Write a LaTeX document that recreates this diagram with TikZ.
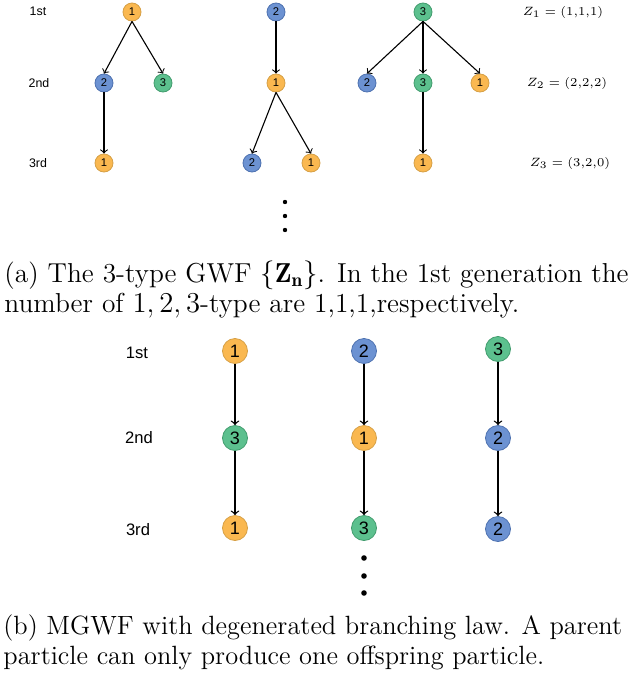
\documentclass[tikz,border=0pt]{standalone}
\usepackage{fontspec}
\newfontfamily\arialfont{Liberation Sans}
\definecolor{orangefill}{RGB}{250,184,80}
\definecolor{orangeline}{RGB}{214,160,70}
\definecolor{bluefill}{RGB}{108,146,210}
\definecolor{blueline}{RGB}{78,114,176}
\definecolor{greenfill}{RGB}{92,192,142}
\definecolor{greenline}{RGB}{66,156,110}
\tikzset{
  one/.style={circle,draw=orangeline,fill=orangefill,inner sep=0pt},
  two/.style={circle,draw=blueline,fill=bluefill,inner sep=0pt},
  three/.style={circle,draw=greenline,fill=greenfill,inner sep=0pt},
  caption/.style={anchor=north west,align=left,inner sep=0pt,
    font=\fontsize{13.7}{15}\selectfont}
}
\begin{document}
\begin{tikzpicture}[x=0.5pt,y=-0.5pt]
    \useasboundingbox (0,0) rectangle (640,675);
    % (a) the 3-type GWF
    \begin{scope}[every node/.style={minimum size=9pt,
        font=\arialfont\fontsize{5.6}{6}\selectfont}]
      \node (p) [one] at (132,12) {1};
      \node (pa)[two] at (104,83) {2};
      \node (pb)[three] at (163,83) {3};
      \node (pc)[one] at (104,163) {1};
      \node (q) [two] at (276,12) {2};
      \node (qa)[one] at (276,83) {1};
      \node (qb)[two] at (252,163) {2};
      \node (qc)[one] at (311,163) {1};
      \node (r) [three] at (423,12) {3};
      \node (ra)[two] at (367,83) {2};
      \node (rb)[three] at (423,83) {3};
      \node (rc)[one] at (480,83) {1};
      \node (rd)[one] at (423,163) {1};
    \end{scope}
    \begin{scope}[every node/.style={font=\arialfont\fontsize{6.2}{7}\selectfont}]
      \node (g1) at (38,11) {1st};
      \node (g2) at (39,83) {2nd};
      \node (g3) at (38,163) {3rd};
    \end{scope}
    \begin{scope}[every node/.style={font=\fontsize{6}{7}\selectfont}]
      \node (z1) at (563,12) {$Z_1=(1{,}1{,}1)$};
      \node (z2) at (567,83) {$Z_2=(2{,}2{,}2)$};
      \node (z3) at (570,163) {$Z_3=(3{,}2{,}0)$};
    \end{scope}
    \begin{scope}[every edge/.style={draw=black,line width=0.55pt,->}]
      \path (p.south) edge (pa.north)
            (p.south) edge (pb.north)
            (pa) edge (pc)
            (q) edge (qa)
            (qa.south) edge (qb.north)
            (qa.south) edge (qc.north)
            (r.south) edge (ra.north)
            (r.south) edge (rb.north)
            (r.south) edge (rc.north)
            (rb) edge (rd);
    \end{scope}
    \foreach \y in {202,216,230}
      \fill (285,\y) circle (1.1pt);
    \node (capa)[caption] at (4,260)
      {(a) The 3-type GWF $\{\mathbf{Z_n}\}$. In the 1st generation the\\
       number of $1,2,3$-type are 1,1,1,respectively.};
    % (b) degenerated branching law
    \begin{scope}[every node/.style={minimum width=11.5pt,minimum height=12.5pt,
        font=\arialfont\fontsize{9}{10}\selectfont}]
      \node (u) [one] at (235,351) {1};
      \node (ua)[three] at (235,438) {3};
      \node (ub)[one] at (235,528) {1};
      \node (v) [two] at (364,351) {2};
      \node (va)[one] at (364,438) {1};
      \node (vb)[three] at (364,528) {3};
      \node (w) [three] at (498,349) {3};
      \node (wa)[two] at (498,438) {2};
      \node (wb)[two] at (498,529) {2};
    \end{scope}
    \begin{scope}[every node/.style={font=\arialfont\fontsize{8.3}{9}\selectfont}]
      \node (h1) at (137,353) {1st};
      \node (h2) at (139,438) {2nd};
      \node (h3) at (138,530) {3rd};
    \end{scope}
    \begin{scope}[every edge/.style={draw=black,line width=0.65pt,->}]
      \path (u) edge (ua)
            (ua) edge (ub)
            (v) edge (va)
            (va) edge (vb)
            (w) edge (wa)
            (wa) edge (wb);
    \end{scope}
    \foreach \y in {558,576,593}
      \fill (364,\y) circle (1.4pt);
    \node (capb)[caption,font=\fontsize{13.2}{15}\selectfont] at (3,614)
      {(b) MGWF with degenerated branching law. A parent\\
       particle can only produce one offspring particle.};
\end{tikzpicture}
\end{document}
